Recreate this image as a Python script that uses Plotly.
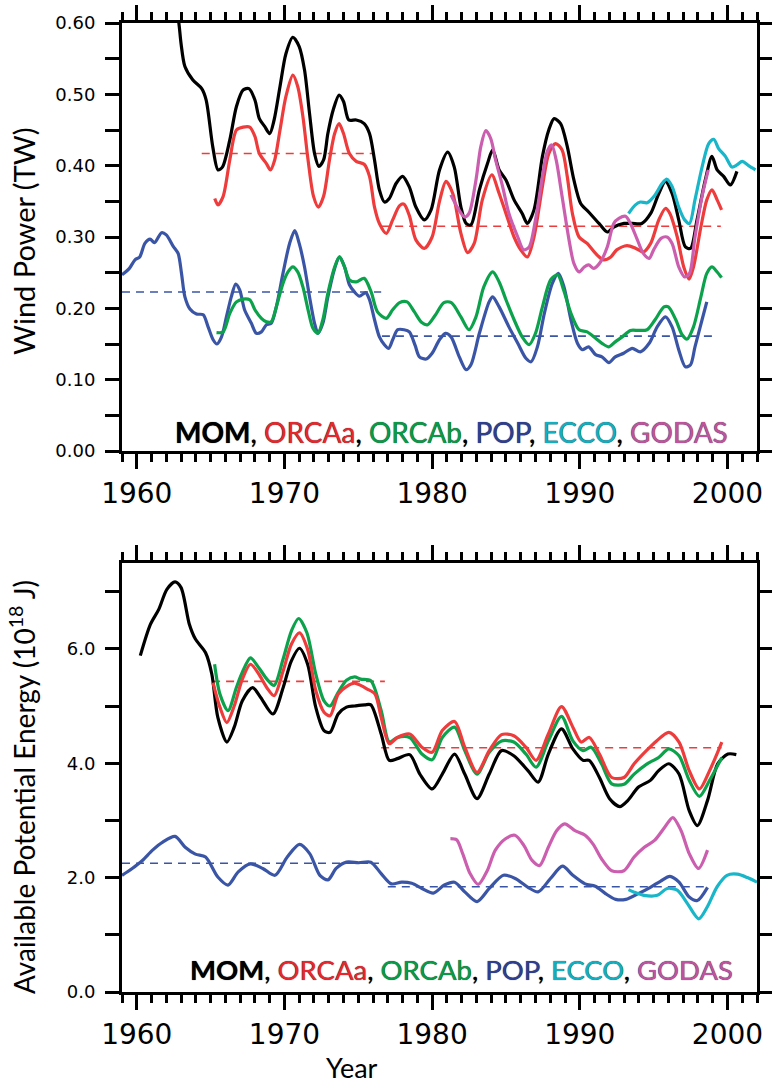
import plotly.graph_objects as go

# ---------------- DATA ----------------
# Top panel: Wind Power (TW)
mom_w_x = [1962.6, 1962.85, 1963.0, 1963.26, 1963.8, 1964.4, 1964.7, 1965.15, 1965.5, 1965.8, 1966.3, 1966.75, 1967.2, 1967.6, 1968.0, 1968.3, 1968.66, 1969.0, 1969.3, 1969.7, 1970.1, 1970.57, 1971.0, 1971.36, 1971.7, 1972.04, 1972.33, 1972.65, 1972.94, 1973.3, 1973.7, 1974.0, 1974.36, 1974.86, 1975.4, 1975.76, 1976.1, 1976.43, 1976.77, 1977.1, 1977.56, 1978.0, 1978.46, 1978.9, 1979.47, 1979.93, 1980.5, 1981.05, 1981.5, 1981.95, 1982.3, 1982.63, 1983.2, 1983.75, 1984.1, 1984.54, 1985.0, 1985.55, 1986.1, 1986.45, 1986.9, 1987.47, 1987.9, 1988.26, 1988.7, 1989.15, 1989.6, 1990.06, 1990.6, 1991.3, 1991.86, 1992.3, 1993.0, 1993.55, 1994.2, 1994.8, 1995.35, 1995.8, 1996.25, 1996.7, 1997.15, 1997.5, 1997.94, 1998.5, 1998.95, 1999.3, 1999.74, 2000.2, 2000.64]
mom_w_y = [0.63, 0.60, 0.571, 0.539, 0.520, 0.508, 0.492, 0.426, 0.394, 0.398, 0.436, 0.483, 0.506, 0.508, 0.492, 0.466, 0.455, 0.445, 0.464, 0.511, 0.557, 0.580, 0.567, 0.534, 0.473, 0.417, 0.399, 0.408, 0.445, 0.478, 0.499, 0.490, 0.464, 0.464, 0.459, 0.445, 0.408, 0.366, 0.349, 0.354, 0.375, 0.385, 0.370, 0.342, 0.324, 0.338, 0.394, 0.419, 0.398, 0.342, 0.319, 0.317, 0.366, 0.403, 0.422, 0.394, 0.380, 0.352, 0.333, 0.319, 0.338, 0.413, 0.450, 0.466, 0.459, 0.427, 0.380, 0.347, 0.335, 0.319, 0.307, 0.314, 0.319, 0.319, 0.319, 0.333, 0.361, 0.378, 0.361, 0.324, 0.286, 0.284, 0.324, 0.380, 0.413, 0.394, 0.385, 0.373, 0.392]

orcaa_w_x = [1965.28, 1965.5, 1965.85, 1966.3, 1966.75, 1967.2, 1967.65, 1968.0, 1968.3, 1968.78, 1969.05, 1969.34, 1969.7, 1970.1, 1970.57, 1970.9, 1971.25, 1971.6, 1971.97, 1972.3, 1972.65, 1973.05, 1973.4, 1973.7, 1974.0, 1974.4, 1974.86, 1975.4, 1975.76, 1976.1, 1976.43, 1976.9, 1977.33, 1977.8, 1978.1, 1978.46, 1978.9, 1979.47, 1980.0, 1980.5, 1980.94, 1981.4, 1981.95, 1982.4, 1982.85, 1983.4, 1984.04, 1984.54, 1985.0, 1985.55, 1986.0, 1986.45, 1986.9, 1987.47, 1987.9, 1988.36, 1988.8, 1989.15, 1989.5, 1989.95, 1990.5, 1991.07, 1991.6, 1992.1, 1992.5, 1993.2, 1993.8, 1994.3, 1994.8, 1995.35, 1995.8, 1996.1, 1996.6, 1997.04, 1997.4, 1997.7, 1998.2, 1998.6, 1998.95, 1999.3, 1999.6]
orcaa_w_y = [0.354, 0.345, 0.357, 0.408, 0.450, 0.454, 0.454, 0.441, 0.417, 0.403, 0.394, 0.408, 0.450, 0.497, 0.527, 0.511, 0.469, 0.408, 0.357, 0.342, 0.357, 0.408, 0.445, 0.459, 0.445, 0.417, 0.406, 0.402, 0.385, 0.342, 0.319, 0.305, 0.324, 0.344, 0.346, 0.330, 0.296, 0.284, 0.300, 0.350, 0.378, 0.361, 0.305, 0.278, 0.291, 0.352, 0.387, 0.361, 0.333, 0.300, 0.282, 0.272, 0.300, 0.371, 0.417, 0.431, 0.422, 0.385, 0.333, 0.300, 0.291, 0.277, 0.268, 0.272, 0.282, 0.288, 0.284, 0.279, 0.291, 0.324, 0.340, 0.333, 0.300, 0.258, 0.241, 0.258, 0.314, 0.352, 0.366, 0.352, 0.338]

orcab_w_x = [1965.4, 1965.85, 1966.3, 1966.75, 1967.2, 1967.65, 1968.0, 1968.44, 1968.78, 1969.1, 1969.45, 1969.9, 1970.24, 1970.57, 1970.9, 1971.25, 1971.6, 1971.93, 1972.27, 1972.6, 1972.94, 1973.4, 1973.73, 1974.07, 1974.4, 1974.86, 1975.4, 1975.87, 1976.3, 1976.9, 1977.33, 1977.8, 1978.3, 1978.8, 1979.3, 1979.7, 1980.2, 1980.8, 1981.3, 1981.95, 1982.5, 1982.97, 1983.5, 1984.1, 1984.54, 1985.0, 1985.55, 1986.1, 1986.57, 1987.0, 1987.47, 1988.03, 1988.5, 1988.9, 1989.4, 1989.95, 1990.5, 1991.07, 1991.5, 1991.97, 1992.4, 1992.87, 1993.43, 1994.0, 1994.56, 1995.1, 1995.7, 1996.0, 1996.5, 1996.93, 1997.27, 1997.7, 1998.2, 1998.6, 1998.95, 1999.3, 1999.6]
orcab_w_y = [0.166, 0.167, 0.193, 0.209, 0.213, 0.212, 0.198, 0.186, 0.181, 0.181, 0.202, 0.235, 0.251, 0.258, 0.251, 0.230, 0.198, 0.172, 0.165, 0.184, 0.221, 0.258, 0.272, 0.258, 0.240, 0.237, 0.242, 0.223, 0.195, 0.186, 0.198, 0.208, 0.209, 0.195, 0.180, 0.177, 0.190, 0.208, 0.208, 0.188, 0.170, 0.188, 0.230, 0.251, 0.237, 0.212, 0.184, 0.160, 0.149, 0.165, 0.202, 0.240, 0.247, 0.226, 0.193, 0.170, 0.167, 0.158, 0.151, 0.146, 0.153, 0.160, 0.169, 0.169, 0.170, 0.184, 0.202, 0.202, 0.184, 0.163, 0.157, 0.174, 0.216, 0.249, 0.258, 0.251, 0.243]

pop_w_x = [1959.0, 1959.5, 1959.88, 1960.2, 1960.55, 1960.9, 1961.2, 1961.68, 1962.0, 1962.47, 1962.8, 1963.03, 1963.26, 1963.6, 1964.04, 1964.5, 1964.83, 1965.17, 1965.43, 1965.74, 1966.07, 1966.4, 1966.7, 1966.97, 1967.3, 1967.76, 1968.1, 1968.44, 1968.78, 1969.1, 1969.45, 1969.9, 1970.35, 1970.7, 1971.0, 1971.36, 1971.7, 1972.04, 1972.27, 1972.6, 1972.94, 1973.4, 1973.73, 1974.07, 1974.4, 1974.74, 1975.08, 1975.5, 1975.76, 1976.1, 1976.43, 1976.77, 1977.06, 1977.33, 1977.67, 1978.1, 1978.46, 1978.85, 1979.14, 1979.6, 1980.0, 1980.5, 1980.9, 1981.28, 1981.84, 1982.3, 1982.63, 1983.2, 1983.86, 1984.1, 1984.54, 1985.2, 1985.8, 1986.35, 1986.7, 1987.13, 1987.6, 1988.14, 1988.55, 1988.93, 1989.4, 1989.84, 1990.17, 1990.6, 1991.07, 1991.5, 1991.97, 1992.4, 1992.97, 1993.55, 1994.1, 1994.7, 1995.24, 1995.8, 1996.25, 1996.7, 1997.15, 1997.5, 1997.8, 1998.28, 1998.6]
pop_w_y = [0.247, 0.256, 0.268, 0.272, 0.291, 0.297, 0.292, 0.306, 0.303, 0.287, 0.277, 0.249, 0.216, 0.199, 0.192, 0.191, 0.174, 0.156, 0.150, 0.160, 0.188, 0.216, 0.234, 0.226, 0.198, 0.179, 0.165, 0.167, 0.177, 0.179, 0.202, 0.249, 0.291, 0.309, 0.291, 0.258, 0.216, 0.179, 0.165, 0.179, 0.216, 0.256, 0.272, 0.258, 0.233, 0.223, 0.217, 0.222, 0.212, 0.184, 0.160, 0.149, 0.144, 0.156, 0.170, 0.170, 0.167, 0.148, 0.132, 0.129, 0.137, 0.156, 0.165, 0.160, 0.132, 0.114, 0.121, 0.165, 0.209, 0.216, 0.202, 0.174, 0.151, 0.130, 0.125, 0.146, 0.193, 0.235, 0.249, 0.230, 0.184, 0.151, 0.142, 0.146, 0.135, 0.132, 0.124, 0.132, 0.137, 0.144, 0.139, 0.151, 0.174, 0.188, 0.174, 0.142, 0.118, 0.121, 0.146, 0.184, 0.209]

ecco_w_x = [1993.3, 1993.77, 1994.1, 1994.56, 1995.1, 1995.57, 1995.9, 1996.25, 1996.7, 1997.1, 1997.43, 1997.8, 1998.28, 1998.73, 1999.07, 1999.4, 1999.86, 2000.3, 2000.64, 2001.0, 2001.43, 2001.9]
ecco_w_y = [0.333, 0.345, 0.349, 0.348, 0.359, 0.375, 0.381, 0.371, 0.342, 0.324, 0.319, 0.352, 0.398, 0.431, 0.437, 0.424, 0.413, 0.398, 0.401, 0.406, 0.400, 0.394]

godas_w_x = [1981.27, 1981.7, 1982.2, 1982.5, 1982.97, 1983.3, 1983.64, 1983.97, 1984.3, 1984.77, 1985.2, 1985.8, 1986.2, 1986.57, 1987.0, 1987.47, 1987.8, 1988.1, 1988.4, 1988.8, 1989.27, 1989.6, 1989.95, 1990.3, 1990.6, 1990.95, 1991.4, 1991.86, 1992.3, 1992.65, 1993.1, 1993.43, 1993.9, 1994.3, 1994.7, 1995.0, 1995.5, 1995.9, 1996.25, 1996.7, 1997.1, 1997.43, 1997.8, 1998.28, 1998.7]
godas_w_y = [0.359, 0.342, 0.328, 0.333, 0.380, 0.427, 0.449, 0.438, 0.408, 0.371, 0.333, 0.300, 0.282, 0.286, 0.324, 0.385, 0.420, 0.429, 0.408, 0.357, 0.296, 0.263, 0.251, 0.258, 0.261, 0.256, 0.265, 0.286, 0.319, 0.326, 0.329, 0.319, 0.296, 0.277, 0.270, 0.282, 0.298, 0.300, 0.291, 0.258, 0.244, 0.249, 0.300, 0.357, 0.394]

# period means (dashed) for the top panel
orcaa_w_mean_x = [[1964.4, 1976.1], [1976.55, 1999.55]]
orcaa_w_mean_y = [0.417, 0.315]
pop_w_mean_x = [[1959.0, 1976.55], [1976.6, 1999.3]]
pop_w_mean_y = [0.223, 0.161]

# Bottom panel: Available Potential Energy (1e18 J)
mom_a_x = [1960.24, 1960.93, 1961.49, 1962.04, 1962.59, 1963.0, 1963.56, 1963.97, 1964.66, 1965.08, 1965.49, 1966.1, 1966.6, 1967.15, 1967.84, 1968.39, 1969.22, 1969.91, 1970.47, 1971.02, 1971.57, 1972.12, 1972.68, 1973.09, 1973.64, 1974.2, 1974.75, 1975.44, 1975.85, 1976.55, 1977.1, 1977.65, 1978.48, 1979.17, 1980.0, 1980.69, 1981.52, 1982.21, 1983.04, 1983.87, 1984.7, 1985.53, 1986.49, 1987.18, 1987.87, 1988.76, 1989.53, 1990.22, 1990.64, 1991.33, 1992.02, 1992.71, 1993.26, 1993.96, 1994.78, 1995.34, 1996.03, 1996.72, 1997.41, 1997.96, 1998.65, 1999.34, 2000.03, 2000.6]
mom_a_y = [5.88, 6.43, 6.69, 7.04, 7.17, 7.07, 6.43, 6.17, 5.93, 5.56, 4.80, 4.37, 4.63, 5.09, 5.32, 5.15, 4.86, 5.32, 5.79, 6.01, 5.73, 4.98, 4.57, 4.54, 4.86, 4.98, 5.00, 5.02, 5.02, 4.51, 4.05, 4.08, 4.15, 3.81, 3.55, 3.81, 4.16, 3.81, 3.38, 3.81, 4.22, 4.13, 3.87, 3.67, 4.16, 4.60, 4.25, 4.05, 4.05, 3.75, 3.38, 3.24, 3.35, 3.58, 3.70, 3.87, 3.99, 3.81, 3.17, 2.91, 3.35, 3.99, 4.16, 4.15]

orcaa_a_x = [1965.16, 1965.63, 1966.1, 1966.6, 1967.15, 1967.7, 1968.26, 1968.81, 1969.3, 1969.91, 1970.47, 1971.02, 1971.57, 1972.12, 1972.68, 1973.09, 1973.64, 1974.2, 1974.75, 1975.16, 1975.58, 1976.13, 1976.55, 1977.1, 1977.65, 1978.48, 1979.31, 1980.0, 1980.69, 1981.52, 1982.21, 1983.04, 1983.87, 1984.7, 1985.53, 1986.35, 1987.04, 1987.87, 1988.76, 1989.53, 1990.09, 1990.64, 1991.33, 1992.16, 1992.99, 1993.68, 1994.51, 1995.2, 1996.03, 1996.72, 1997.41, 1998.1, 1998.79, 1999.62]
orcaa_a_y = [5.41, 4.98, 4.71, 5.00, 5.47, 5.73, 5.56, 5.32, 5.18, 5.61, 6.08, 6.28, 5.99, 5.27, 4.89, 4.83, 5.21, 5.34, 5.40, 5.36, 5.30, 5.21, 4.80, 4.34, 4.45, 4.51, 4.28, 4.19, 4.57, 4.73, 4.28, 3.84, 4.22, 4.50, 4.48, 4.28, 4.05, 4.51, 4.99, 4.63, 4.37, 4.45, 4.16, 3.75, 3.75, 3.99, 4.22, 4.39, 4.54, 4.37, 3.87, 3.55, 3.87, 4.37]

orcab_a_x = [1965.27, 1965.63, 1966.18, 1966.74, 1967.15, 1967.7, 1968.26, 1968.81, 1969.3, 1969.91, 1970.47, 1970.96, 1971.52, 1972.12, 1972.68, 1973.09, 1973.64, 1974.2, 1974.75, 1975.16, 1975.85, 1976.55, 1977.1, 1977.65, 1978.48, 1979.31, 1980.0, 1980.69, 1981.52, 1982.21, 1983.04, 1983.87, 1984.7, 1985.53, 1986.35, 1987.04, 1987.87, 1988.76, 1989.53, 1990.22, 1990.77, 1991.47, 1992.16, 1992.99, 1993.68, 1994.51, 1995.34, 1996.03, 1996.72, 1997.41, 1998.1, 1998.79, 1999.62]
orcab_a_y = [5.73, 5.21, 4.92, 5.32, 5.59, 5.84, 5.67, 5.47, 5.36, 5.82, 6.31, 6.53, 6.28, 5.56, 5.09, 5.00, 5.24, 5.45, 5.51, 5.47, 5.44, 4.92, 4.37, 4.45, 4.45, 4.16, 4.06, 4.45, 4.63, 4.22, 3.81, 4.19, 4.39, 4.37, 4.16, 3.93, 4.39, 4.82, 4.39, 4.22, 4.28, 3.99, 3.64, 3.63, 3.81, 3.98, 4.10, 4.25, 4.13, 3.70, 3.42, 3.70, 4.10]

pop_a_x = [1959.0, 1959.69, 1960.38, 1961.07, 1961.76, 1962.59, 1963.28, 1963.97, 1964.66, 1965.49, 1966.18, 1966.87, 1967.7, 1968.53, 1969.36, 1970.19, 1971.02, 1971.71, 1972.4, 1972.95, 1973.5, 1974.2, 1975.03, 1975.85, 1976.55, 1977.24, 1977.93, 1978.62, 1979.31, 1980.08, 1980.83, 1981.52, 1982.21, 1983.04, 1983.87, 1984.83, 1985.66, 1986.49, 1987.18, 1988.0, 1988.83, 1989.53, 1990.36, 1991.05, 1991.74, 1992.43, 1993.12, 1993.96, 1994.78, 1995.48, 1996.1, 1996.72, 1997.41, 1997.96, 1998.65]
pop_a_y = [2.04, 2.16, 2.30, 2.48, 2.62, 2.72, 2.53, 2.41, 2.36, 2.01, 1.87, 2.10, 2.24, 2.16, 2.04, 2.36, 2.58, 2.42, 2.04, 1.96, 2.16, 2.27, 2.26, 2.27, 2.07, 1.89, 1.92, 1.90, 1.81, 1.73, 1.87, 1.92, 1.75, 1.58, 1.81, 2.04, 1.98, 1.83, 1.75, 1.98, 2.20, 2.04, 1.89, 1.85, 1.72, 1.62, 1.62, 1.72, 1.83, 1.94, 2.02, 1.92, 1.66, 1.60, 1.83]

ecco_a_x = [1993.3, 1993.65, 1994.34, 1995.25, 1995.92, 1996.6, 1997.28, 1998.06, 1998.64, 1999.3, 1999.97, 2000.67, 2001.35, 2002.0]
ecco_a_y = [1.79, 1.75, 1.69, 1.69, 1.81, 1.78, 1.55, 1.28, 1.49, 1.84, 2.04, 2.06, 2.00, 1.92]

godas_a_x = [1981.24, 1981.66, 1982.07, 1982.57, 1983.12, 1983.73, 1984.28, 1984.97, 1985.61, 1986.22, 1986.77, 1987.27, 1987.87, 1988.43, 1988.98, 1989.67, 1990.36, 1990.91, 1991.47, 1992.16, 1992.99, 1993.68, 1994.37, 1995.06, 1995.75, 1996.3, 1996.86, 1997.41, 1998.04, 1998.65]
godas_a_y = [2.68, 2.66, 2.42, 2.07, 1.88, 2.12, 2.48, 2.68, 2.74, 2.56, 2.30, 2.21, 2.53, 2.82, 2.94, 2.82, 2.74, 2.58, 2.33, 2.12, 2.12, 2.36, 2.53, 2.65, 2.88, 3.05, 2.82, 2.42, 2.16, 2.48]

orcaa_a_mean_x = [[1965.1, 1976.8], [1976.55, 1999.6]]
orcaa_a_mean_y = [5.43, 4.27]
pop_a_mean_x = [[1959.0, 1976.4], [1977.0, 1998.65]]
pop_a_mean_y = [2.25, 1.84]

model_names = ["MOM", "ORCAa", "ORCAb", "POP", "ECCO", "GODAS"]
colors = {"MOM": "#000000", "ORCAa": "#EE3B3B", "ORCAb": "#0BA24B",
          "POP": "#3A55A6", "ECCO": "#19B6C9", "GODAS": "#CB5EAE"}
legend_colors = {"MOM": "#000000", "ORCAa": "#E8262B", "ORCAb": "#079A47",
                 "POP": "#2E3E92", "ECCO": "#10AFC2", "GODAS": "#C0539F"}

x_range = [1959, 2002]
W, H = 772, 1086

# ---------------- FIGURE ----------------
fig = go.Figure()

def add_series(x, y, name, xa, ya):
    fig.add_trace(go.Scatter(x=x, y=y, mode="lines", name=name,
                             line=dict(color=colors[name], width=3.2, shape="spline", smoothing=0.8),
                             xaxis=xa, yaxis=ya, showlegend=False))

def add_means(seg_x, seg_y, name, xa, ya):
    for sx, sy in zip(seg_x, seg_y):
        fig.add_trace(go.Scatter(x=sx, y=[sy, sy], mode="lines",
                                 line=dict(color=colors[name], width=1.6, dash="8px,6px"),
                                 xaxis=xa, yaxis=ya, showlegend=False))

# top panel
add_means(orcaa_w_mean_x, orcaa_w_mean_y, "ORCAa", "x", "y")
add_means(pop_w_mean_x, pop_w_mean_y, "POP", "x", "y")
add_series(pop_w_x, pop_w_y, "POP", "x", "y")
add_series(orcab_w_x, orcab_w_y, "ORCAb", "x", "y")
add_series(orcaa_w_x, orcaa_w_y, "ORCAa", "x", "y")
add_series(mom_w_x, mom_w_y, "MOM", "x", "y")
add_series(ecco_w_x, ecco_w_y, "ECCO", "x", "y")
add_series(godas_w_x, godas_w_y, "GODAS", "x", "y")

# bottom panel
add_means(orcaa_a_mean_x, orcaa_a_mean_y, "ORCAa", "x2", "y2")
add_means(pop_a_mean_x, pop_a_mean_y, "POP", "x2", "y2")
add_series(pop_a_x, pop_a_y, "POP", "x2", "y2")
add_series(ecco_a_x, ecco_a_y, "ECCO", "x2", "y2")
add_series(godas_a_x, godas_a_y, "GODAS", "x2", "y2")
add_series(mom_a_x, mom_a_y, "MOM", "x2", "y2")
add_series(orcab_a_x, orcab_a_y, "ORCAb", "x2", "y2")
add_series(orcaa_a_x, orcaa_a_y, "ORCAa", "x2", "y2")

tick_font = "DejaVu Sans, sans-serif"
title_font = "Lato, Liberation Sans, sans-serif"

xdom = [122 / W, 757 / W]
top_dom = [1 - 451 / H, 1 - 23 / H]
bot_dom = [1 - 992 / H, 1 - 563 / H]

def xaxis_cfg(anchor):
    return dict(domain=xdom, range=x_range, anchor=anchor, showline=True, linewidth=3,
                linecolor="black", mirror="ticks", ticks="outside", tickwidth=3,
                ticklen=15, tickcolor="black", dtick=10, tick0=1960,
                minor=dict(dtick=1, tick0=1960, ticks="outside", ticklen=8, tickwidth=2.5,
                           tickcolor="black"),
                showgrid=False, zeroline=False, automargin=False,
                tickfont=dict(family=tick_font, size=28, color="black"))

def yaxis_cfg(anchor, dom, rng, dtick, mdtick, fmt):
    return dict(domain=dom, range=rng, anchor=anchor, showline=True, linewidth=3,
                linecolor="black", mirror="ticks", ticks="outside", tickwidth=3,
                ticklen=14, tickcolor="black", dtick=dtick, tick0=0, tickformat=fmt,
                minor=dict(dtick=mdtick, tick0=0, ticks="outside", ticklen=14, tickwidth=3,
                           tickcolor="black"),
                showgrid=False, zeroline=False, automargin=False, ticklabelstandoff=6,
                tickfont=dict(family=tick_font, size=18, color="black"))

fig.update_layout(
    width=W, height=H, template="none",
    margin=dict(l=0, r=0, t=0, b=0),
    paper_bgcolor="white", plot_bgcolor="white",
    xaxis=xaxis_cfg("y"),
    yaxis=yaxis_cfg("x", top_dom, [0, 0.6], 0.1, 0.05, ".2f"),
    xaxis2=xaxis_cfg("y2"),
    yaxis2=yaxis_cfg("x2", bot_dom, [0, 7.5], 2, 1, ".1f"),
)

legend_html = ", ".join(
    (f"<b>{n}</b>" if n == "MOM" else f"<span style='color:{legend_colors[n]}'>{n}</span>")
    for n in model_names)

legend_shadow = "0px 0px 0.8px rgba(0,0,0,0.9)"
annotations = [
    dict(text=legend_html, x=451 / W, y=1 - 432 / H, xref="paper", yref="paper",
         xanchor="center", yanchor="middle", showarrow=False,
         font=dict(family=title_font, size=28, color="black", shadow=legend_shadow)),
    dict(text=legend_html, x=461 / W, y=1 - 969 / H, xref="paper", yref="paper",
         xanchor="center", yanchor="middle", showarrow=False,
         font=dict(family=title_font, size=27.5, color="black", shadow=legend_shadow)),
    dict(text="Wind Power (TW)", x=24 / W, y=1 - 241 / H, xref="paper", yref="paper",
         xanchor="center", yanchor="middle", textangle=-90, showarrow=False,
         font=dict(family=title_font, size=29, color="black")),
    dict(text="Available Potential Energy (10<sup>18</sup> J)", x=22 / W, y=1 - 787 / H,
         xref="paper", yref="paper", xanchor="center", yanchor="middle", textangle=-90,
         showarrow=False, font=dict(family=title_font, size=28, color="black")),
    dict(text="Year", x=352 / W, y=1 - 1067 / H, xref="paper", yref="paper",
         xanchor="center", yanchor="middle", showarrow=False, borderpad=0,
         font=dict(family=title_font, size=27, color="black")),
]
fig.update_layout(annotations=annotations)

fig.write_html("out.html", config={"displayModeBar": False},
               post_script="document.body.style.margin='0';document.body.style.overflow='hidden';")
